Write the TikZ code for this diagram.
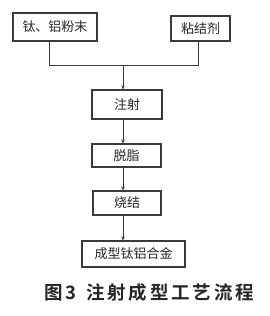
\documentclass[tikz,border=0pt]{standalone}
\usepackage{fontspec}
\newfontfamily\cjk{Noto Sans CJK SC}
\newfontfamily\cjkb[LetterSpace=15]{Noto Sans CJK SC Bold}
\usetikzlibrary{arrows.meta}
\definecolor{ln}{HTML}{3A3A3A}
\tikzset{
  box/.style={draw=ln, line width=1.1pt, inner sep=0pt, font=\cjk\fontsize{13}{15}\selectfont, text=black!85},
  conn/.style={draw=ln, line width=0.9pt},
  arr/.style={conn, -{Stealth[length=4pt,width=3.5pt]}}
}
\begin{document}
\begin{tikzpicture}[x=1pt,y=-1pt]
\useasboundingbox (0,0) rectangle (270,316);
\node[box, minimum width=84pt, minimum height=28pt] (a) at (55,27) {钛、铝粉末};
\node[box, minimum width=59pt, minimum height=25pt] (b) at (200.5,28.5) {粘结剂};
\node[box, minimum width=70pt, minimum height=29pt] (c) at (127,104.5) {注射};
\node[box, minimum width=69pt, minimum height=23pt] (d) at (126.5,155.5) {脱脂};
\node[box, minimum width=68pt, minimum height=24pt] (e) at (127,203) {烧结};
\node[box, minimum width=103pt, minimum height=26pt] (f) at (133.5,254) {成型钛铝合金};
\coordinate (ja) at (49,65);
\coordinate (jb) at (198,65);
\coordinate (jm) at (123,65);
\draw[conn] (a.south -| ja) -- (ja) -- (jb) -- (b.south -| jb);
\draw[arr] (jm) -- (jm |- c.north);
\draw[arr] (c.south -| jm) -- (d.north -| jm);
\draw[arr] (d.south -| jm) -- (e.north -| jm);
\draw[arr] (e.south -| jm) -- (f.north -| jm);
\node[font=\cjkb\fontsize{18.5}{20}\selectfont, text=black!85] (cap) at (149,292) {图3\hspace{10pt}注射成型工艺流程};
\end{tikzpicture}
\end{document}
